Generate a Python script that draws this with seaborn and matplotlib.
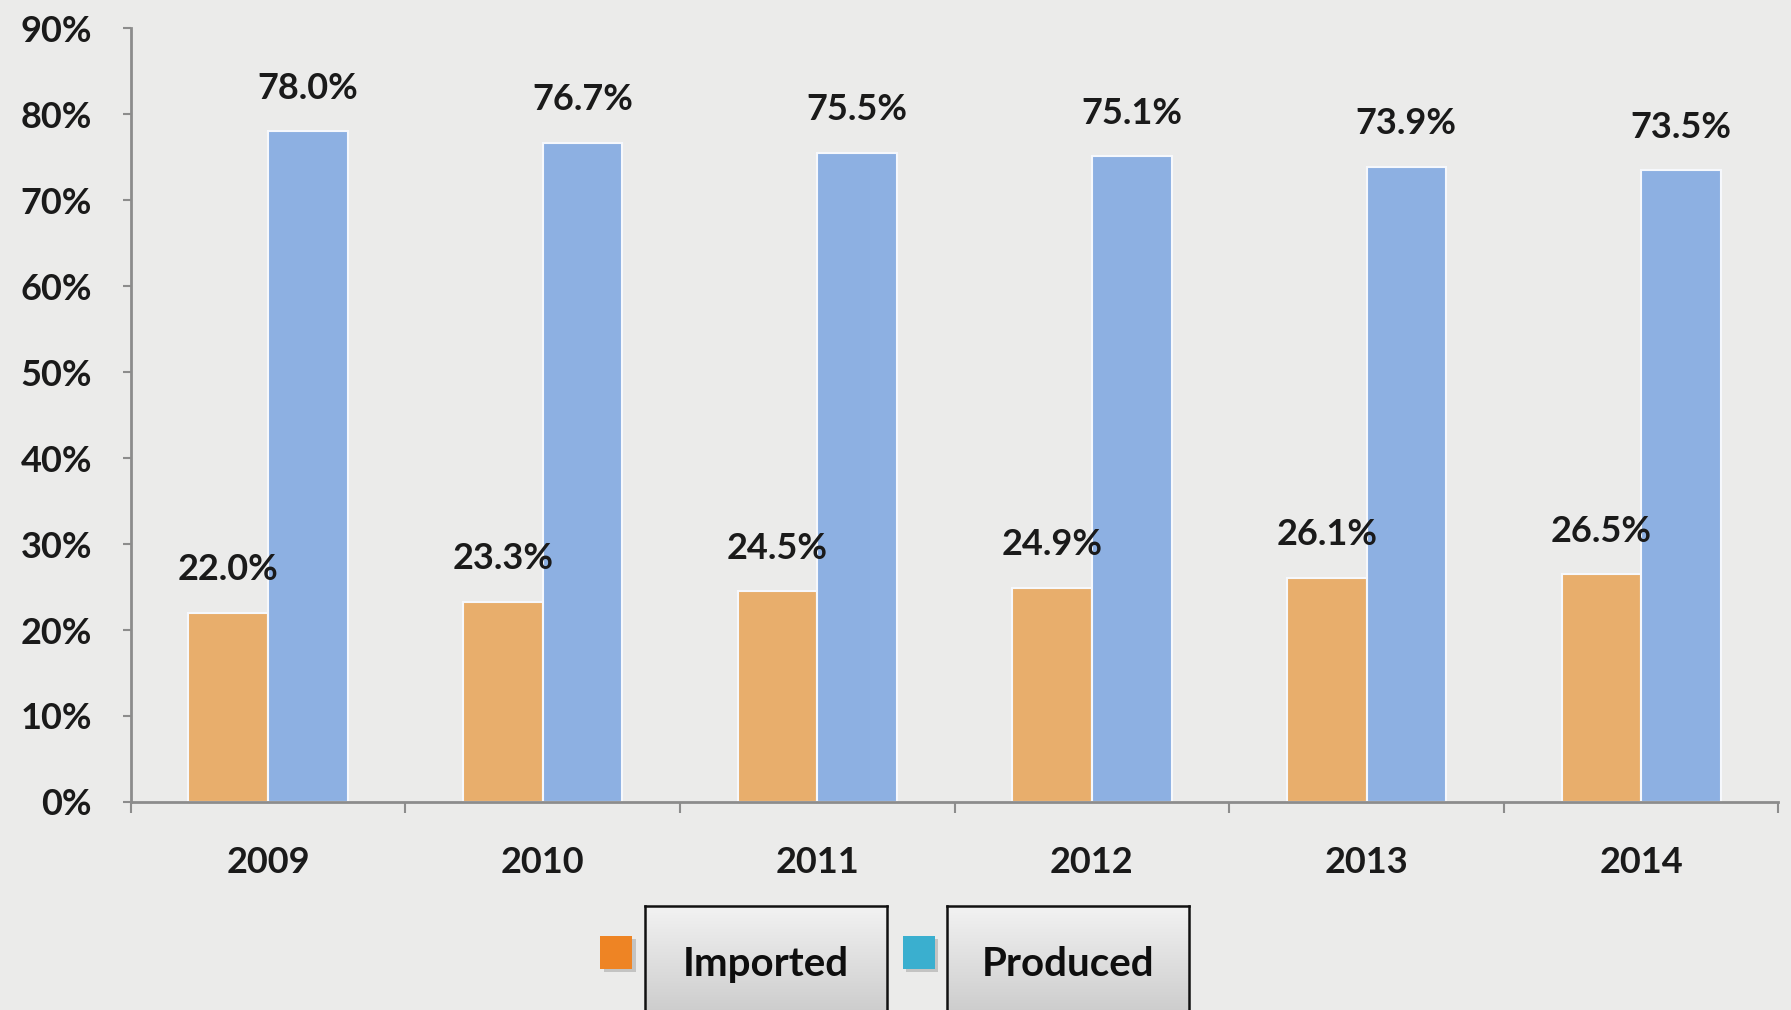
import matplotlib
matplotlib.use("Agg")
import matplotlib.pyplot as plt
import seaborn as sns
import pandas as pd
import numpy as np
from matplotlib.patches import Rectangle

# Share of supply by source, per year (percent)
years = ["2009", "2010", "2011", "2012", "2013", "2014"]
imported = [22.0, 23.3, 24.5, 24.9, 26.1, 26.5]
produced = [78.0, 76.7, 75.5, 75.1, 73.9, 73.5]
series = ["Imported", "Produced"]
y_ticks = [0, 10, 20, 30, 40, 50, 60, 70, 80, 90]
y_tick_labels = [f"{v}%" for v in y_ticks]

df = pd.DataFrame({
    "Year": years * 2,
    "Share": imported + produced,
    "Source": [series[0]] * len(years) + [series[1]] * len(years),
})

BG = "#EBEBEA"
AXIS = "#8C8C8C"
TXT = "#1A1A1A"
bar_colors = {"Imported": "#E8AE6C", "Produced": "#8DB0E2"}
marker_colors = {"Imported": "#EE8424", "Produced": "#3AAFCF"}

sns.set_theme(style="white")
plt.rcParams["font.family"] = ["Lato", "DejaVu Sans"]

fig = plt.figure(figsize=(17.91, 10.10), dpi=100)
fig.patch.set_facecolor(BG)
ax = fig.add_axes([0.073, 0.206, 0.920, 0.766])
ax.set_facecolor(BG)

sns.barplot(data=df, x="Year", y="Share", hue="Source", order=years,
            hue_order=series, palette=bar_colors, width=0.58, saturation=1,
            edgecolor="#F6F8FC", linewidth=1.5, legend=False, ax=ax)

# value labels above each bar
for container, vals in zip(ax.containers, [imported, produced]):
    for bar, v in zip(container, vals):
        ax.annotate(f"{v:.1f}%", (bar.get_x() + bar.get_width() / 2, bar.get_height()),
                    xytext=(0, 31), textcoords="offset points", ha="center", va="center",
                    fontsize=26, fontweight="bold", color=TXT)

ax.set_ylim(0, 90)
ax.set_xlim(-0.5, len(years) - 0.5)
ax.set_yticks(y_ticks)
ax.set_yticklabels(y_tick_labels)
ax.set_xlabel("")
ax.set_ylabel("")

for side in ["top", "right"]:
    ax.spines[side].set_visible(False)
for side in ["left", "bottom"]:
    ax.spines[side].set_color(AXIS)
    ax.spines[side].set_linewidth(2)

ax.tick_params(axis="y", direction="out", length=6, width=1.5, color=AXIS, pad=22,
               labelsize=26, labelcolor=TXT, left=True)
ax.tick_params(axis="x", which="major", length=0, pad=32, labelsize=26, labelcolor=TXT)
ax.set_xticks(np.arange(-0.5, len(years), 1.0), minor=True)
ax.tick_params(axis="x", which="minor", direction="out", length=8, width=1.5, color=AXIS, bottom=True)
for lab in ax.get_xticklabels() + ax.get_yticklabels():
    lab.set_fontweight("bold")

# boxed legend below the axes
grad = np.linspace(0.95, 0.78, 64).reshape(-1, 1)
entries = [
    ("Imported", 0.335, 0.360),
    ("Produced", 0.504, 0.529),
]
for name, mx, bx in entries:
    fig.add_artist(Rectangle((mx + 0.002, 0.038), 0.018, 0.032, transform=fig.transFigure,
                             facecolor="#7A7A7A", edgecolor="none", alpha=0.35))
    fig.add_artist(Rectangle((mx, 0.041), 0.018, 0.032, transform=fig.transFigure,
                             facecolor=marker_colors[name], edgecolor="none"))
    bax = fig.add_axes([bx, -0.02, 0.135, 0.123])
    bax.imshow(np.dstack([grad, grad, grad]), aspect="auto", extent=[0, 1, 0, 1])
    bax.set_xticks([])
    bax.set_yticks([])
    for s in bax.spines.values():
        s.set_color("#111111")
        s.set_linewidth(1.8)
    bax.text(0.5, 0.53, name, ha="center", va="center", fontsize=29, fontweight="bold",
             color="#0E0E0E", transform=bax.transAxes)

fig.savefig("out.png", dpi=100, facecolor=BG)
